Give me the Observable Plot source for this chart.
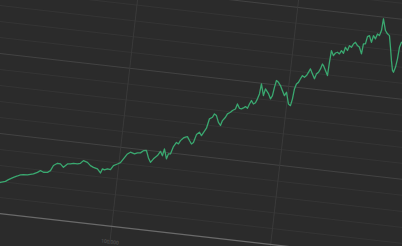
<!DOCTYPE html>
<html><head><meta charset="utf-8">
<script src="https://cdn.jsdelivr.net/npm/d3@7"></script>
<script src="https://cdn.jsdelivr.net/npm/@observablehq/plot@0.6"></script>
<style>
html,body{margin:0;padding:0;background:#2b2b2b;overflow:hidden;width:402px;height:246px;}
#chart{position:absolute;left:-30px;top:-40px;width:470px;height:330px;transform-origin:231px 163px;transform:rotate(6.5deg);}
</style></head><body><div id="chart"></div>
<script>
const steps = [24770,27780,30820,32560,35500,37890,39680,41520,44020,47680,50050,51790,53780,56260,58000,59510,61830,63740,65840,68090,69950,71770,74300,76120,77790,80390,82490,84470,87070,89220,90170,91490,93280,95190,96770,99140,100910,102510,104640,106390,108990,110780,112640,114340,116200,117960,119520,121140,123390,124950,126490,127260,129210,130100,131340,132690,134250,135600,136610,138280,139480,140670,142200,143670,144800,146120,147820,149300,151890,153080,154830,155840,157200,158910,160390,161280,162910,163910,165660,166780,168520,169410,170960,172250,173420,174570,175930,176860,177870,179350,180520,181480,182370,182900,184970,185740,187930,189550,190560,191210,191980,193340,194820,196420,198010,199020,201080,202440,203210,203750,204630,205760,206770,207770,209140,210260,211270,212270,213860,215460,216350,217480,218480,219370,220110,221700,223300,223600,224010,225610,226670,227860,229220,230220,231660,232470,233950,234840,236200,237200,238330,239810,241170,242880,243410,244650,245380,246550,248270,249030,250510,251400,252760,253650,254060,256130,257610,258970,260420,261980,263310,264050,264940,265590,266010,266900,269500];
const values = [18.3,19.5,20.5,21.8,23.6,24.7,25.6,26.0,26.1,27.1,28.4,29.7,28.9,29.1,30.4,33.8,35.5,35.3,33.4,35.8,36.0,36.6,36.5,37.1,39.0,38.2,36.4,35.5,34.8,32.5,35.2,34.7,35.5,35.3,38.0,39.3,40.4,43.0,46.3,47.6,46.8,47.7,47.9,49.5,49.8,45.3,42.7,45.1,47.4,50.3,47.7,52.1,46.0,49.3,49.4,54.2,57.0,56.2,58.4,60.3,60.9,61.4,59.1,57.1,58.2,63.3,65.0,63.0,68.0,74.1,75.3,77.5,76.6,72.5,70.7,73.9,76.2,78.5,79.7,80.9,82.1,85.4,82.8,82.6,83.3,84.3,83.4,86.2,88.5,86.5,87.4,90.0,93.2,99.6,92.4,96.8,94.1,90.9,93.1,98.4,102.8,101.8,99.9,96.9,93.9,96.2,89.0,88.1,92.5,98.8,102.1,103.2,105.6,107.7,106.8,108.0,110.2,112.5,109.5,106.6,109.8,110.9,113.2,116.4,115.5,112.5,109.5,117.9,125.4,122.4,124.2,124.8,123.9,126.1,124.6,128.5,126.6,129.8,128.9,131.1,132.3,130.4,129.5,125.5,131.9,132.0,136.7,137.5,133.4,137.8,135.9,139.1,138.2,141.5,149.0,141.8,139.9,138.9,131.7,123.4,117.3,116.3,119.5,125.0,132.3,135.6,135.0];
const xGrid = [100000, 200000];
const xLabels = [100000];
const yMinor = [10,20,30,40,60,70,80,90,110,120,130,140,160,170];
const yMajor = [50,100,150];
const yBase = [0];

const data = steps.map((s, i) => ({step: s, value: values[i]}));

const chart = Plot.plot({
  width: 470,
  height: 330,
  margin: 0,
  marginBottom: 42,
  style: {background: "transparent", fontFamily: "Roboto, sans-serif"},
  x: {domain: [0, 300000], range: [-6.5, 473.5], axis: null},
  y: {domain: [0, 150], range: [275.2, 36.7], axis: null},
  marks: [
    Plot.ruleY(yMinor, {stroke: "#353535", strokeWidth: 1}),
    Plot.ruleY(yMajor, {stroke: "#434343", strokeWidth: 1}),
    Plot.ruleX(xGrid, {y1: -10, y2: 175, stroke: "#3a3a3a", strokeWidth: 1}),
    Plot.ruleY(yBase, {stroke: "#6a6a6a", strokeWidth: 1.2}),
    Plot.line(data, {x: "step", y: "value", stroke: "#3aa870", strokeWidth: 1.3}),
    Plot.axisX(xLabels, {tickSize: 0, tickPadding: 1, fontSize: 5, color: "#5a5a5a", tickFormat: d3.format(","), label: null})
  ]
});
document.getElementById("chart").appendChild(chart);
</script>
</body></html>
